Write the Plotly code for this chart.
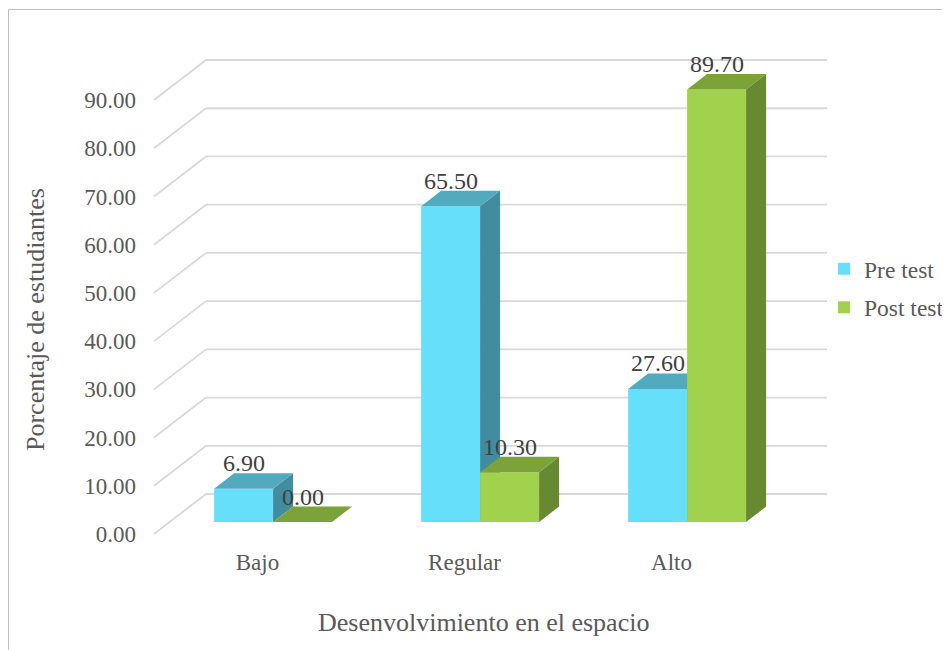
import plotly.graph_objects as go

# ---------------- data ----------------
categories = ["Bajo", "Regular", "Alto"]
series_names = ["Pre test", "Post test"]
pre_test = [6.90, 65.50, 27.60]
post_test = [0.00, 10.30, 89.70]
y_ticks = [0, 10, 20, 30, 40, 50, 60, 70, 80, 90]

# ---------------- styling / geometry calibration ----------------
W, H = 950, 650
PAGE_OFF = 8                     # body margin of the html page
# plot area in page pixels
PL, PR, PT, PB = 150, 835, 50, 540
L, R, T, B = PL - PAGE_OFF, W - (PR - PAGE_OFF), PT - PAGE_OFF, H - (PB - PAGE_OFF)
PX_PER_CAT = 207.0
PX_PER_UNIT = 4.822
FRONT_X0 = 154.0
FRONT_Y0 = 534.0

x_range = [(PL - FRONT_X0) / PX_PER_CAT - 0.5, (PR - FRONT_X0) / PX_PER_CAT - 0.5]
y_range = [(FRONT_Y0 - PB) / PX_PER_UNIT, (FRONT_Y0 - PT) / PX_PER_UNIT]
pw, ph = PR - PL, PB - PT


def px_paper_x(px):
    return (px - PL) / pw


def px_paper_y(py):
    return (PB - py) / ph


def dxu(px):
    return px / PX_PER_CAT


def dyu(px):
    return px / PX_PER_UNIT


WALL_DX, WALL_DY = dxu(52), dyu(40)
PLANE_DX, PLANE_DY = dxu(15.6), dyu(12)
BAR_DX, BAR_DY = dxu(20), dyu(15.5)
BAR_W = dxu(59)

FONT = "Liberation Serif"
TXT = "#595959"
colors = {
    "Pre test": ("#66E0FA", "#52AABF", "#418C9E"),
    "Post test": ("#A0D24E", "#7BA33A", "#67892F"),
}

fig = go.Figure()

annotations = []
series_list = [("Pre test", pre_test, "x", "y", -1), ("Post test", post_test, "x2", "y2", 0)]
for name, vals, xa, ya, side in series_list:
    front_c, top_c, side_c = colors[name]
    x0s = [i + PLANE_DX + side * BAR_W for i in range(len(categories))]
    # front faces
    fig.add_trace(go.Bar(
        x=[x0 + BAR_W / 2 for x0 in x0s], y=vals, base=PLANE_DY, width=BAR_W,
        name=name, marker=dict(color=front_c, line=dict(width=0)),
        xaxis=xa, yaxis=ya, legendgroup=name, showlegend=True, hoverinfo="skip",
    ))
    # top and side faces
    tx, ty, sx, sy = [], [], [], []
    for x0, v in zip(x0s, vals):
        x1 = x0 + BAR_W
        top = PLANE_DY + v
        tx += [x0, x1, x1 + BAR_DX, x0 + BAR_DX, x0, None]
        ty += [top, top, top + BAR_DY, top + BAR_DY, top, None]
        sx += [x1, x1 + BAR_DX, x1 + BAR_DX, x1, x1, None]
        sy += [PLANE_DY, PLANE_DY + BAR_DY, top + BAR_DY, top, PLANE_DY, None]
        annotations.append(dict(
            x=x0 + BAR_W / 2, y=top + BAR_DY + dyu(10), xref="x", yref="y",
            text=f"{v:.2f}", showarrow=False, yanchor="middle", xanchor="center",
            font=dict(family=FONT, size=24, color="#404040"),
        ))
    fig.add_trace(go.Scatter(x=sx, y=sy, mode="lines", fill="toself", fillcolor=side_c,
                             line=dict(width=0, color=side_c), xaxis=xa, yaxis=ya,
                             showlegend=False, hoverinfo="skip"))
    fig.add_trace(go.Scatter(x=tx, y=ty, mode="lines", fill="toself", fillcolor=top_c,
                             line=dict(width=0, color=top_c), xaxis=xa, yaxis=ya,
                             showlegend=False, hoverinfo="skip"))

# grid lines (back wall + depth diagonals)
shapes = []
grid_col = "#D9D9D9"
for v in y_ticks:
    shapes.append(dict(type="line", xref="x", yref="y", layer="below",
                       x0=-0.5, y0=v, x1=-0.5 + WALL_DX, y1=v + WALL_DY,
                       line=dict(color=grid_col, width=1.8)))
    shapes.append(dict(type="line", xref="x", yref="y", layer="below",
                       x0=-0.5 + WALL_DX, y0=v + WALL_DY,
                       x1=len(categories) - 0.5 + WALL_DX, y1=v + WALL_DY,
                       line=dict(color=grid_col, width=1.8)))

# outer chart border
shapes.append(dict(type="rect", xref="paper", yref="paper", layer="below",
                   x0=px_paper_x(8.5), x1=px_paper_x(990),
                   y0=px_paper_y(690), y1=px_paper_y(9.5),
                   line=dict(color="#BFBFBF", width=1)))

annotations.append(dict(text="Desenvolvimiento en el espacio", xref="paper", yref="paper",
                        x=px_paper_x(483), y=px_paper_y(622), showarrow=False,
                        xanchor="center", yanchor="middle",
                        font=dict(family=FONT, size=26, color=TXT)))
annotations.append(dict(text="Porcentaje de estudiantes", xref="paper", yref="paper",
                        x=px_paper_x(35), y=px_paper_y(320), showarrow=False,
                        textangle=-90, xanchor="center", yanchor="middle",
                        font=dict(family=FONT, size=26, color=TXT)))

fig.update_layout(
    width=W, height=H,
    margin=dict(l=L, r=R, t=T, b=B, autoexpand=False),
    paper_bgcolor="white", plot_bgcolor="white",
    barmode="overlay",
    shapes=shapes, annotations=annotations,
    showlegend=True,
    legend=dict(x=px_paper_x(824), xanchor="left", y=px_paper_y(247), yanchor="top",
                font=dict(family=FONT, size=23.5, color=TXT),
                traceorder="grouped", tracegroupgap=5, bgcolor="rgba(0,0,0,0)",
                itemclick=False),
    xaxis=dict(range=x_range, tickvals=list(range(len(categories))), ticktext=categories,
               showgrid=False, zeroline=False, showline=False, ticks="",
               tickfont=dict(family=FONT, size=23, color=TXT), ticklabelstandoff=6,
               fixedrange=True),
    yaxis=dict(range=y_range, tickvals=y_ticks, tickformat=".2f",
               showgrid=False, zeroline=False, showline=False, ticks="",
               tickfont=dict(family=FONT, size=23, color=TXT), ticklabelstandoff=13,
               fixedrange=True),
    xaxis2=dict(range=x_range, overlaying="x", anchor="y2", visible=False, fixedrange=True),
    yaxis2=dict(range=y_range, overlaying="y", anchor="x2", visible=False, fixedrange=True),
)

fig.write_html("out.html")
